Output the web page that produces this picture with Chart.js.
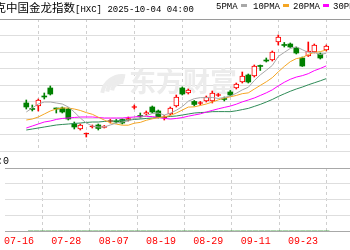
<!DOCTYPE html>
<html>
<head>
<meta charset="utf-8">
<script src="https://cdn.jsdelivr.net/npm/chart.js@4.4.1/dist/chart.umd.min.js"></script>
<style>
    html, body { margin: 0; padding: 0; background: #fff; }
    #wrap { position: relative; width: 350px; height: 250px; overflow: hidden; background: #fff; }
    canvas { position: absolute; left: 0; }
    .txt { position: absolute; white-space: nowrap; color: #000; font: 9px "Liberation Mono", monospace; line-height: 14px; }
    .cn { font-family: "Noto Sans CJK SC", sans-serif; font-size: 11.5px; }
    .key { display: inline-block; width: 6px; height: 3px; margin: 0 0 2px 3px; vertical-align: middle; }
</style>
</head>
<body>
<div id="wrap">
    <canvas id="price-chart" width="350" height="152" style="top:0"></canvas>
    <canvas id="volume-chart" width="350" height="99" style="top:151px"></canvas>
    <div class="txt" style="left:-40px; top:0"><span class="cn">纳斯达克中国金龙指数</span>[HXC] 2025-10-04 04:00</div>
    <div id="legend"></div>
    <div class="txt" style="right:341px; top:152px; font-size:10px"><span class="cn">成交量</span>:0</div>
</div>
<script>
const dates = [
    '07-18', '07-21', '07-22', '07-23', '07-24', '07-25', '07-28', '07-29', '07-30', '07-31',
    '08-01', '08-04', '08-05', '08-06', '08-07', '08-08', '08-11', '08-12', '08-13', '08-14',
    '08-15', '08-18', '08-19', '08-20', '08-21', '08-22', '08-25', '08-26', '08-27', '08-28',
    '08-29', '09-02', '09-03', '09-04', '09-05', '09-08', '09-09', '09-10', '09-11', '09-12',
    '09-15', '09-16', '09-17', '09-18', '09-19', '09-22', '09-23', '09-24', '09-25', '09-26',
    '09-29'
]

const opens = [
    7755, 7673, 7710, 7860, 7980, 7680, 7680, 7665, 7440, 7365,
    7290, 7395, 7425, 7388, 7478, 7485, 7508, 7500, 7688, 7568,
    7590, 7695, 7635, 7530, 7590, 7710, 7980, 7905, 7778, 7748,
    7785, 7785, 7868, 7823, 7920, 7980, 8070, 8175, 8160, 8318,
    8400, 8400, 8670, 8633, 8640, 8580, 8430, 8460, 8520, 8490,
    8550
]
const closes = [
    7695, 7658, 7800, 7845, 7890, 7665, 7620, 7515, 7395, 7425,
    7298, 7403, 7373, 7410, 7485, 7470, 7455, 7523, 7695, 7553,
    7613, 7620, 7545, 7545, 7680, 7845, 7890, 7950, 7733, 7755,
    7845, 7905, 7875, 7808, 7875, 8040, 8160, 8070, 8310, 8303,
    8385, 8520, 8745, 8618, 8595, 8505, 8310, 8535, 8625, 8430,
    8610
]
const highs = [
    7800, 7725, 7815, 7905, 8010, 7680, 7695, 7680, 7470, 7440,
    7305, 7425, 7440, 7418, 7508, 7508, 7515, 7545, 7725, 7605,
    7635, 7710, 7650, 7568, 7695, 7875, 7995, 7965, 7793, 7778,
    7860, 7935, 7898, 7845, 7943, 8055, 8220, 8190, 8325, 8325,
    8430, 8535, 8775, 8663, 8655, 8595, 8445, 8670, 8640, 8505,
    8625
]
const lows = [
    7665, 7635, 7635, 7815, 7875, 7605, 7605, 7500, 7365, 7350,
    7245, 7380, 7350, 7380, 7455, 7455, 7440, 7485, 7665, 7530,
    7575, 7605, 7530, 7500, 7575, 7695, 7875, 7890, 7710, 7725,
    7770, 7755, 7853, 7785, 7860, 7965, 8055, 8055, 8145, 8243,
    8370, 8385, 8625, 8595, 8588, 8490, 8303, 8453, 8505, 8415,
    8535
]

const ma5 = [
    7620, 7680, 7740, 7770, 7770, 7755, 7740, 7695, 7620, 7530,
    7455, 7410, 7395, 7395, 7425, 7455, 7470, 7485, 7523, 7536,
    7565, 7598, 7605, 7575, 7602, 7646, 7701, 7782, 7820, 7835,
    7835, 7838, 7823, 7838, 7860, 7901, 7952, 7991, 8091, 8177,
    8246, 8318, 8453, 8514, 8573, 8597, 8555, 8513, 8514, 8481,
    8502
]
const ma10 = [
    7500, 7515, 7545, 7590, 7635, 7665, 7680, 7680, 7665, 7643,
    7611, 7586, 7542, 7499, 7458, 7439, 7422, 7422, 7452, 7464,
    7496, 7518, 7535, 7548, 7568, 7605, 7649, 7694, 7697, 7718,
    7740, 7769, 7802, 7829, 7848, 7868, 7895, 7907, 7964, 8019,
    8073, 8135, 8222, 8303, 8375, 8421, 8436, 8483, 8514, 8526,
    8549
]
const ma20 = [
    7380, 7410, 7440, 7470, 7485, 7508, 7523, 7530, 7538, 7545,
    7545, 7545, 7538, 7530, 7530, 7530, 7530, 7538, 7545, 7557,
    7554, 7551, 7539, 7524, 7514, 7523, 7536, 7557, 7575, 7592,
    7619, 7644, 7668, 7689, 7709, 7737, 7772, 7800, 7830, 7868,
    7907, 7952, 8012, 8066, 8111, 8144, 8165, 8195, 8240, 8273,
    8312
]
const ma30 = [
    7350, 7365, 7380, 7395, 7410, 7425, 7433, 7440, 7448, 7455,
    7463, 7470, 7470, 7478, 7485, 7485, 7493, 7500, 7508, 7515,
    7523, 7530, 7538, 7545, 7553, 7560, 7575, 7590, 7605, 7611,
    7616, 7625, 7626, 7626, 7625, 7638, 7656, 7674, 7704, 7734,
    7770, 7808, 7853, 7893, 7931, 7965, 7994, 8028, 8058, 8088,
    8121
]

// index has no volume
const volume = dates.map(() => 0)

const tickIndex  = [-2, 6, 14, 22, 30, 38, 46]
const tickLabels = ['07-16', '07-28', '08-07', '08-19', '08-29', '09-11', '09-23']

const maNames  = ['5PMA', '10PMA', '20PMA', '30PMA']
const maColors = ['#a8a8a8', '#f5a623', '#ff00ff', '#2e8b57']
const legendLeft = [216, 253, 293, 333]

const RED = '#ff0000'
const GREEN = '#008000'

const X_MIN = -0.2143
const X_MAX = 49.7857

const isUp = i => closes[i] >= opens[i]

// faint site watermark behind the candles
const watermark = {
    id: 'watermark',
    beforeDatasetsDraw(chart) {
        const ctx = chart.ctx
        ctx.save()
        ctx.strokeStyle = '#ececec'
        ctx.lineWidth = 4
        for (let k = 0; k < 3; k++) {
            ctx.beginPath()
            ctx.arc(122, 96 - k * 2, 20 - k * 5, Math.PI * 1.05, Math.PI * 1.55)
            ctx.stroke()
        }
        ctx.fillStyle = '#ececec'
        ctx.font = 'bold 27px "Noto Sans CJK SC"'
        ctx.textBaseline = 'middle'
        ctx.fillText('东方财富', 129, 82)
        ctx.restore()
    }
}

function setTicks(axis) {
    axis.ticks = tickIndex.map(v => ({ value: v }))
}

function lineSet(values, color) {
    return {
        type: 'line',
        data: values.map((v, i) => ({ x: i, y: v })),
        borderColor: color,
        borderWidth: 1,
        pointRadius: 0,
        tension: 0,
        order: 0
    }
}

function drawPrice() {
    const ctx = document.getElementById('price-chart').getContext('2d')

    new Chart(ctx, {
        type: 'bar',
        data: {
            datasets: [
                {
                    data: dates.map((d, i) => ({ x: i, y: [lows[i], highs[i]] })),
                    backgroundColor: dates.map((d, i) => isUp(i) ? RED : GREEN),
                    barThickness: 1,
                    grouped: false,
                    order: 2
                },
                {
                    data: dates.map((d, i) => ({ x: i, y: [opens[i], closes[i]] })),
                    backgroundColor: dates.map((d, i) => {
                        if (!isUp(i)) return GREEN
                        return Math.abs(closes[i] - opens[i]) <= 20 ? RED : '#ffffff'
                    }),
                    borderColor: dates.map((d, i) => isUp(i) ? RED : GREEN),
                    borderWidth: dates.map((d, i) => isUp(i) ? 1 : 0),
                    borderSkipped: false,
                    barThickness: 5,
                    minBarLength: 1,
                    grouped: false,
                    order: 1
                },
                lineSet(ma5, maColors[0]),
                lineSet(ma10, maColors[1]),
                lineSet(ma20, maColors[2]),
                lineSet(ma30, maColors[3])
            ]
        },
        options: {
            responsive: false,
            animation: false,
            events: [],
            layout: { padding: { top: 19, bottom: 1, left: 0, right: 0 } },
            plugins: { legend: { display: false }, tooltip: { enabled: false } },
            scales: {
                x: {
                    type: 'linear',
                    min: X_MIN,
                    max: X_MAX,
                    afterBuildTicks: setTicks,
                    ticks: { display: false },
                    grid: { color: '#cfcfcf', drawTicks: false },
                    border: { display: false, dash: [3, 3] }
                },
                y: {
                    min: 7035,
                    max: 9015,
                    ticks: { display: false, stepSize: 247.5 },
                    grid: {
                        drawTicks: false,
                        color: c => c.index === 8 ? '#9a9a9a' : '#dedede'
                    },
                    border: { display: false }
                }
            }
        },
        plugins: [watermark]
    })
}

function drawVolume() {
    const ctx = document.getElementById('volume-chart').getContext('2d')

    new Chart(ctx, {
        type: 'bar',
        data: {
            datasets: [{
                data: volume.map((v, i) => ({ x: i, y: v })),
                backgroundColor: GREEN,
                barThickness: 5
            }]
        },
        options: {
            responsive: false,
            animation: false,
            events: [],
            layout: { padding: { top: 17, bottom: 0, left: 0, right: 0 } },
            plugins: { legend: { display: false }, tooltip: { enabled: false } },
            scales: {
                x: {
                    type: 'linear',
                    min: X_MIN,
                    max: X_MAX,
                    afterBuildTicks: setTicks,
                    afterFit: s => { s.height = 19 },
                    ticks: {
                        autoSkip: false,
                        maxRotation: 0,
                        padding: 4,
                        color: RED,
                        font: { family: 'Liberation Mono', size: 10 },
                        callback: v => tickLabels[tickIndex.indexOf(v)]
                    },
                    grid: { color: '#cfcfcf', drawTicks: false },
                    border: { display: false, dash: [3, 3] }
                },
                y: {
                    min: 0,
                    max: 4,
                    ticks: { display: false, stepSize: 1 },
                    grid: {
                        drawTicks: false,
                        color: c => (c.index === 0 || c.index === 4) ? '#a8a8a8' : '#dedede'
                    },
                    border: { display: false }
                }
            }
        }
    })
}

function drawLegend() {
    const box = document.getElementById('legend')
    box.innerHTML = maNames.map((name, i) =>
        `<div class="txt" style="left:${legendLeft[i]}px; top:0">${name}<span class="key" style="background:${maColors[i]}"></span></div>`
    ).join('')
}

drawPrice()
drawVolume()
drawLegend()
</script>
</body>
</html>
